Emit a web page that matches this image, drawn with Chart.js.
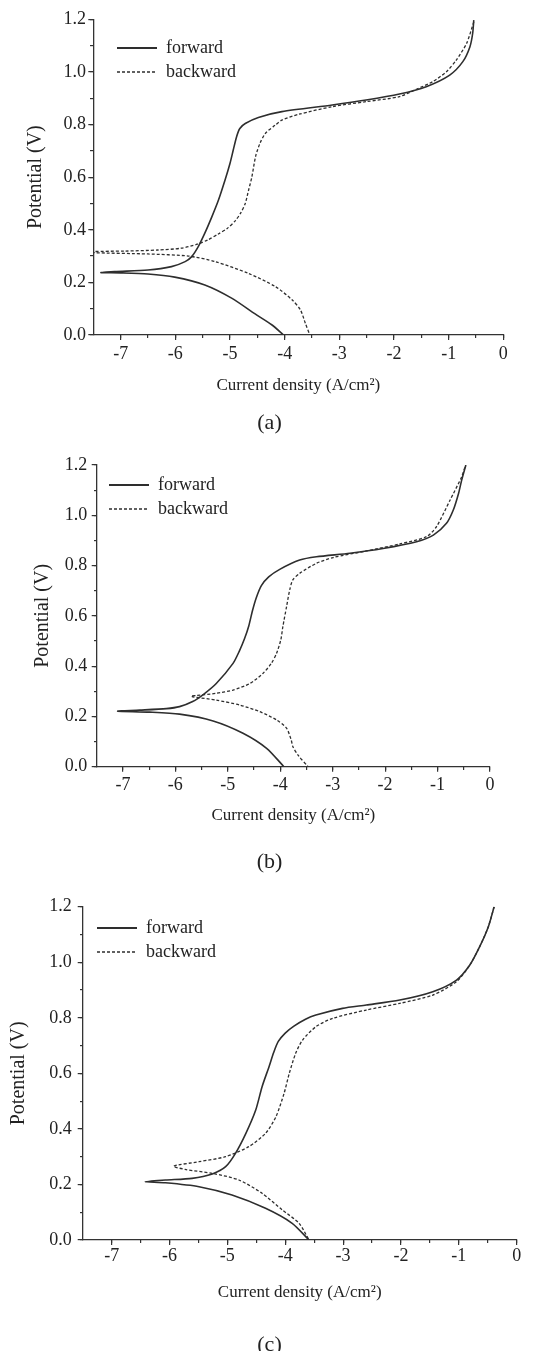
<!DOCTYPE html>
<html>
<head>
<meta charset="utf-8">
<script src="https://cdn.jsdelivr.net/npm/chart.js@4.4.1/dist/chart.umd.min.js"></script>
<style>
  html, body { margin: 0; padding: 0; background: #fff; overflow: hidden; }
  body { width: 539px; height: 1351px; position: relative; }
  canvas { position: absolute; left: 0; }
</style>
</head>
<body>
<canvas id="pa" width="539" height="436" style="top:0px"></canvas>
<canvas id="pb" width="539" height="435" style="top:440px"></canvas>
<canvas id="pc" width="539" height="478" style="top:880px"></canvas>
<script>
// ---------- data (log current density, potential) ----------
const xTicks = [-7, -6, -5, -4, -3, -2, -1, 0];
const yTicks = [0, 0.2, 0.4, 0.6, 0.8, 1.0, 1.2];
const captions = ['(a)', '(b)', '(c)'];
const seriesNames = ['forward', 'backward'];

// Panel (a)
const aForwardX = [-4.02, -4.23, -4.54, -4.97, -5.46, -6.01, -6.5, -7.0, -7.36, -7.11, -6.5, -6.07, -5.82, -5.70, -5.58, -5.46, -5.33, -5.21, -5.09, -5.00, -4.94, -4.88, -4.82, -4.72, -4.48, -4.05, -3.13, -2.51, -1.90, -1.41, -0.98, -0.74, -0.61, -0.56, -0.54];
const aForwardY = [0.0, 0.038, 0.08, 0.14, 0.19, 0.22, 0.232, 0.236, 0.237, 0.241, 0.247, 0.26, 0.279, 0.298, 0.336, 0.387, 0.45, 0.513, 0.589, 0.652, 0.703, 0.753, 0.785, 0.804, 0.827, 0.849, 0.874, 0.893, 0.916, 0.944, 0.988, 1.039, 1.096, 1.147, 1.197];
const aBackwardX = [-0.54, -0.67, -0.86, -1.04, -1.29, -1.59, -1.90, -2.51, -3.13, -3.74, -4.05, -4.17, -4.35, -4.45, -4.53, -4.60, -4.66, -4.72, -4.80, -4.90, -5.05, -5.22, -5.40, -5.60, -5.89, -6.32, -6.93, -7.5, -7.5, -6.5, -5.76, -5.27, -4.66, -4.17, -3.86, -3.71, -3.62, -3.54];
const aBackwardY = [1.19, 1.109, 1.045, 1.001, 0.963, 0.934, 0.906, 0.887, 0.868, 0.839, 0.817, 0.798, 0.767, 0.729, 0.68, 0.60, 0.55, 0.50, 0.465, 0.435, 0.405, 0.383, 0.362, 0.345, 0.33, 0.323, 0.319, 0.317, 0.313, 0.308, 0.30, 0.279, 0.234, 0.184, 0.133, 0.095, 0.044, 0.0];

// Panel (b)
const bForwardX = [-3.93, -4.26, -4.71, -5.28, -5.92, -6.49, -7.10, -6.68, -6.17, -5.92, -5.67, -5.45, -5.22, -4.90, -4.78, -4.68, -4.60, -4.53, -4.46, -4.36, -4.22, -4.01, -3.63, -3.31, -2.67, -2.04, -1.40, -1.08, -0.83, -0.70, -0.60, -0.54, -0.46];
const bForwardY = [0.0, 0.073, 0.133, 0.182, 0.209, 0.217, 0.221, 0.225, 0.231, 0.239, 0.259, 0.29, 0.331, 0.411, 0.46, 0.51, 0.56, 0.62, 0.67, 0.72, 0.755, 0.785, 0.822, 0.835, 0.849, 0.868, 0.895, 0.921, 0.968, 1.021, 1.087, 1.14, 1.2];
const bBackwardX = [-0.48, -0.54, -0.76, -1.02, -1.21, -1.72, -2.36, -2.99, -3.31, -3.63, -3.76, -3.82, -3.88, -3.95, -3.99, -4.07, -4.17, -4.33, -4.58, -4.90, -5.22, -5.60, -5.70, -5.67, -5.22, -4.77, -4.39, -4.07, -3.88, -3.79, -3.76, -3.66, -3.47];
const bBackwardY = [1.19, 1.153, 1.061, 0.955, 0.915, 0.886, 0.858, 0.832, 0.809, 0.769, 0.743, 0.703, 0.636, 0.557, 0.504, 0.451, 0.411, 0.371, 0.331, 0.305, 0.292, 0.283, 0.281, 0.278, 0.265, 0.245, 0.219, 0.186, 0.153, 0.106, 0.08, 0.046, 0.0];

// Panel (c)
const cForwardX = [-3.59, -3.88, -4.34, -4.92, -5.49, -6.07, -6.42, -6.07, -5.61, -5.26, -5.03, -4.86, -4.68, -4.51, -4.40, -4.28, -4.20, -4.12, -4.00, -3.85, -3.65, -3.47, -3.01, -2.60, -2.02, -1.45, -1.04, -0.81, -0.64, -0.49, -0.39];
const cForwardY = [0.0, 0.06, 0.114, 0.162, 0.192, 0.206, 0.21, 0.216, 0.222, 0.238, 0.264, 0.312, 0.384, 0.468, 0.552, 0.624, 0.675, 0.715, 0.745, 0.77, 0.795, 0.81, 0.834, 0.846, 0.864, 0.894, 0.936, 0.99, 1.056, 1.128, 1.2];
const cBackwardX = [-0.39, -0.49, -0.64, -0.81, -1.04, -1.45, -2.02, -2.60, -3.18, -3.47, -3.70, -3.82, -3.93, -4.02, -4.16, -4.34, -4.63, -5.03, -5.49, -5.93, -5.73, -5.26, -4.80, -4.40, -4.05, -3.76, -3.59];
const cBackwardY = [1.2, 1.128, 1.056, 0.99, 0.93, 0.882, 0.852, 0.828, 0.798, 0.768, 0.72, 0.672, 0.60, 0.528, 0.444, 0.384, 0.336, 0.30, 0.282, 0.266, 0.254, 0.24, 0.216, 0.168, 0.108, 0.06, 0.0];

// ---------- styling ----------
const SERIF = "'Liberation Serif', 'Times New Roman', serif";
const LINE = '#2e2e2e';
const AXIS = '#333333';
const TXT = '#222222';

function zip(xs, ys) { return xs.map((x, i) => ({ x: x, y: ys[i] })); }

const legendShift = {
  id: 'legendShift',
  afterLayout(chart, args, opts) {
    const lg = chart.legend, ca = chart.chartArea;
    if (!lg) return;
    lg.left = ca.left + opts.dx;
    lg.top = ca.top + opts.dy;
    lg.right = ca.right;
    lg.bottom = ca.bottom;
  }
};

function legendLabels(chart) {
  const items = Chart.defaults.plugins.legend.labels.generateLabels(chart);
  items.forEach(it => {
    const ds = chart.data.datasets[it.datasetIndex];
    it.pointStyle = 'line';
    it.rotation = 0;
    it.lineDash = ds.borderDash || [];
    it.lineWidth = ds.borderDash ? 1.3 : 2;
    it.strokeStyle = ds.borderColor;
    it.fillStyle = 'rgba(0,0,0,0)';
  });
  return items;
}

function makeChart(id, p) {
  return new Chart(document.getElementById(id), {
    type: 'scatter',
    data: {
      datasets: [
        { label: seriesNames[0], data: zip(p.fx, p.fy), showLine: true, borderColor: LINE,
          backgroundColor: 'rgba(0,0,0,0)', borderWidth: 1.6, pointRadius: 0, tension: 0.25 },
        { label: seriesNames[1], data: zip(p.bx, p.by), showLine: true, borderColor: LINE,
          backgroundColor: 'rgba(0,0,0,0)', borderWidth: 1.3, borderDash: [3, 2], pointRadius: 0, tension: 0.25 }
      ]
    },
    plugins: [legendShift],
    options: {
      responsive: false,
      animation: false,
      events: [],
      layout: { padding: { top: p.padTop, right: 0, bottom: 0, left: 0 } },
      scales: {
        x: {
          type: 'linear', min: -7.5, max: 0, position: 'bottom',
          afterBuildTicks: s => { s.ticks = xTicks.map(v => ({ value: v })); },
          afterFit: s => { s.height = p.xh; },
          grid: { drawOnChartArea: false, drawTicks: true, tickLength: 5, color: AXIS, lineWidth: 1.2 },
          border: { display: true, color: AXIS, width: 1.3 },
          ticks: { color: TXT, font: { family: SERIF, size: 18 }, padding: p.xPad, maxRotation: 0, autoSkip: false,
                   callback: v => String(v) },
          title: { display: true, text: 'Current density (A/cm²)', color: TXT,
                   font: { family: SERIF, size: 17 }, padding: { top: 0, bottom: p.xTitlePad } }
        },
        y: {
          type: 'linear', min: 0, max: 1.2, position: 'left',
          afterBuildTicks: s => { s.ticks = yTicks.map(v => ({ value: v })); },
          afterFit: s => { s.width = p.yw; },
          grid: { drawOnChartArea: false, drawTicks: true, tickLength: 5, color: AXIS, lineWidth: 1.2 },
          border: { display: true, color: AXIS, width: 1.3 },
          ticks: { color: TXT, font: { family: SERIF, size: 18 }, padding: p.yPad, autoSkip: false,
                   callback: v => Number(v).toFixed(1) },
          title: { display: true, text: 'Potential (V)', color: TXT,
                   font: { family: SERIF, size: 20 }, padding: { top: p.yTitlePad, bottom: 0 } }
        },
        ySpacer: {
          type: 'linear', axis: 'y', min: 0, max: 1.2, position: 'right', display: true,
          afterFit: s => { s.width = p.rightW; },
          grid: { display: false }, border: { display: false }, ticks: { display: false }
        },
        xMinor: {
          type: 'linear', axis: 'x', min: -7.5, max: 0, position: { y: 0 },
          afterBuildTicks: s => { s.ticks = s.ticks.filter(t => t.value > -7.49); },
          grid: { drawOnChartArea: false, drawTicks: true, tickLength: 3, color: AXIS, lineWidth: 1.2 },
          border: { display: false },
          ticks: { display: false, stepSize: 0.5 }
        },
        yMinor: {
          type: 'linear', axis: 'y', min: 0, max: 1.2, position: { x: -7.5 },
          grid: { drawOnChartArea: false, drawTicks: true, tickLength: 3, color: AXIS, lineWidth: 1.2 },
          border: { display: false },
          ticks: { display: false, stepSize: 0.1 }
        }
      },
      plugins: {
        tooltip: { enabled: false },
        legendShift: { dx: p.ldx, dy: p.ldy },
        legend: {
          display: true, position: 'chartArea', align: 'start',
          labels: { color: TXT, font: { family: SERIF, size: 18 }, usePointStyle: true, pointStyleWidth: 40,
                    boxWidth: 40, boxHeight: 10, padding: 6, generateLabels: legendLabels }
        },
        title: {
          display: true, text: p.caption, position: 'bottom', color: TXT,
          font: { family: SERIF, size: 22, weight: 'normal' }, padding: 0
        }
      }
    }
  });
}

makeChart('pa', { fx: aForwardX, fy: aForwardY, bx: aBackwardX, by: aBackwardY, caption: captions[0],
  padTop: 19.3, rightW: 35.7, yw: 93.3, xh: 74.6, xPad: 3, yPad: 2.3, yTitlePad: 24, xTitlePad: 13.4, ldx: 17.7, ldy: 13.7 });
makeChart('pb', { fx: bForwardX, fy: bForwardY, bx: bBackwardX, by: bBackwardY, caption: captions[1],
  padTop: 25, rightW: 49, yw: 96.7, xh: 81.9, xPad: 2.5, yPad: 4.4, yTitlePad: 30.7, xTitlePad: 22.4, ldx: 6.3, ldy: 5 });
makeChart('pc', { fx: cForwardX, fy: cForwardY, bx: cBackwardX, by: cBackwardY, caption: captions[2],
  padTop: 26.7, rightW: 22.3, yw: 82.7, xh: 91.6, xPad: 0, yPad: 6, yTitlePad: 6.3, xTitlePad: 28.4, ldx: 8.3, ldy: 6.3 });
</script>
</body>
</html>
